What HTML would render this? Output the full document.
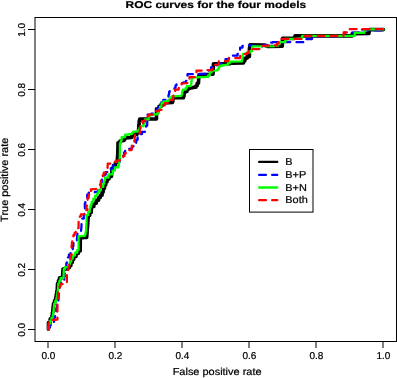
<!DOCTYPE html>
<html><head><meta charset="utf-8"><title>ROC curves for the four models</title>
<style>
html,body{margin:0;padding:0;background:#fff;}
body{width:397px;height:378px;overflow:hidden;}
svg{display:block;}
text{font-family:"Liberation Sans",sans-serif;fill:#000;text-rendering:geometricPrecision;stroke:#000;stroke-width:0.22px;}
.t{font-size:10px;}
.l{font-size:10.1px;}
.g{font-size:10px;}
.c{fill:none;stroke-width:2.25;stroke-linecap:round;stroke-linejoin:round;}
</style></head><body>
<svg width="397" height="378" viewBox="0 0 397 378">
<rect x="0" y="0" width="397" height="378" fill="#fff"/>
<text transform="translate(215.8,8.1) scale(1.21,1)" text-anchor="middle" font-weight="bold" font-size="9.9px" text-rendering="geometricPrecision">ROC curves for the four models</text>
<text transform="translate(217.1,375.2) scale(1.085,1)" text-anchor="middle" class="l">False positive rate</text>
<text transform="translate(7.7,179.8) rotate(-90) scale(1.085,1.04)" text-anchor="middle" class="l">True positive rate</text>

<polyline class="c" stroke="#000" style="stroke-width:3.6" points="48.4,329.3 48.5,324.5 48.5,322.6 50.2,322.6 50.2,318.9 52.0,318.9 52.0,317.0 52.0,315.5 52.4,315.5 52.4,312.5 52.8,312.5 52.8,309.5 53.1,309.5 53.1,306.5 53.5,306.5 53.5,305.0 53.5,303.5 54.6,303.5 54.6,300.5 55.7,300.5 55.7,299.0 55.7,297.5 56.2,297.5 56.2,294.5 56.7,294.5 56.7,291.5 57.2,291.5 57.2,290.0 57.5,285.0 57.5,283.5 58.5,283.5 58.5,280.5 59.5,280.5 59.5,279.0 59.5,277.8 62.5,277.8 62.5,276.5 63.0,270.0 63.0,269.1 66.0,269.1 66.0,268.3 66.0,267.6 69.5,267.6 69.5,267.0 69.5,265.5 70.9,265.5 70.9,262.5 72.3,262.5 72.3,259.5 73.7,259.5 73.7,258.0 73.7,256.5 76.0,256.5 76.0,253.5 78.3,253.5 78.3,252.0 78.3,251.0 80.2,251.0 80.2,250.0 80.3,238.0 80.3,237.8 83.5,237.8 83.5,237.4 86.7,237.4 86.7,237.2 86.7,235.8 86.9,235.8 86.9,232.9 87.1,232.9 87.1,230.0 87.3,230.0 87.3,227.1 87.6,227.1 87.6,224.2 87.8,224.2 87.8,221.3 88.0,221.3 88.0,218.4 88.2,218.4 88.2,217.0 88.2,215.5 89.7,215.5 89.7,212.5 91.2,212.5 91.2,211.0 91.6,208.0 91.6,206.4 93.9,206.4 93.9,203.3 96.3,203.3 96.3,200.2 98.6,200.2 98.6,198.7 98.6,197.5 100.3,197.5 100.3,195.2 102.1,195.2 102.1,194.0 102.1,192.1 103.2,192.1 103.2,188.4 104.4,188.4 104.4,186.5 104.4,185.0 105.7,185.0 105.7,182.0 107.0,182.0 107.0,180.5 107.0,179.0 109.0,179.0 109.0,177.5 109.0,176.5 111.5,176.5 111.5,175.5 112.0,170.0 112.0,168.3 113.7,168.3 113.7,166.7 113.7,165.3 115.5,165.3 115.5,162.4 117.2,162.4 117.2,161.0 117.8,153.6 118.0,144.5 118.0,142.8 120.0,142.8 120.0,141.0 124.0,140.5 124.0,139.2 125.0,139.2 125.0,138.0 131.5,137.5 131.5,136.2 133.0,136.2 133.0,135.0 133.0,134.5 137.0,134.5 137.0,134.0 137.0,132.5 138.5,132.5 138.5,131.0 138.8,126.0 138.8,124.2 139.2,124.2 139.2,120.8 139.7,120.8 139.7,119.0 156.5,119.0 156.5,110.0 156.5,108.8 159.0,108.8 159.0,107.5 159.0,106.4 161.2,106.4 161.2,104.1 163.5,104.1 163.5,103.0 172.5,102.5 172.5,101.3 173.0,101.3 173.0,98.9 173.5,98.9 173.5,97.7 183.5,97.8 183.5,96.3 184.0,96.3 184.0,93.4 184.5,93.4 184.5,92.0 184.5,91.5 187.0,91.5 187.0,91.0 187.0,89.8 188.0,89.8 188.0,88.5 188.0,88.2 190.7,88.2 190.7,87.8 193.3,87.8 193.3,87.2 196.0,87.2 196.0,87.0 196.0,85.8 197.2,85.8 197.2,83.2 198.5,83.2 198.5,82.0 199.0,74.6 213.0,74.2 213.5,63.7 230.0,63.7 231.0,63.2 243.5,63.0 243.5,61.1 244.8,61.1 244.8,59.2 244.8,58.3 247.1,58.3 247.1,56.6 249.4,56.6 249.4,55.7 249.4,48.7 250.0,44.8 264.0,45.0 268.0,46.5 282.3,46.3 282.5,38.4 294.8,38.4 295.0,35.8 352.0,35.9 352.3,33.6 369.0,33.4 369.3,29.6 383.5,29.6"/>
<polyline class="c" stroke="#0000ff" stroke-dasharray="6.8 6.2" points="48.4,329.3 48.4,327.6 50.0,327.6 50.0,326.0 50.0,325.0 53.5,325.0 53.5,324.0 53.5,322.6 54.0,322.6 54.0,319.9 54.5,319.9 54.5,317.1 55.1,317.1 55.1,314.4 55.6,314.4 55.6,313.0 55.6,311.4 56.3,311.4 56.3,308.1 57.1,308.1 57.1,304.9 57.8,304.9 57.8,301.6 58.5,301.6 58.5,300.0 59.0,290.0 59.0,288.5 59.5,288.5 59.5,285.5 60.0,285.5 60.0,284.0 60.0,282.7 64.0,282.7 64.0,281.4 64.0,279.8 64.3,279.8 64.3,276.7 64.7,276.7 64.7,273.6 65.0,273.6 65.0,272.0 65.0,270.2 65.7,270.2 65.7,266.8 66.3,266.8 66.3,265.0 66.3,263.4 66.8,263.4 66.8,260.3 67.4,260.3 67.4,258.7 67.4,257.3 68.9,257.3 68.9,254.6 70.5,254.6 70.5,251.9 72.0,251.9 72.0,250.6 72.0,249.3 72.8,249.3 72.8,248.0 72.8,246.2 73.4,246.2 73.4,244.5 73.4,243.2 75.2,243.2 75.2,240.6 76.9,240.6 76.9,239.3 77.4,234.0 77.4,233.2 80.9,233.2 80.9,232.3 81.5,226.0 81.5,220.0 81.5,218.6 83.8,218.6 83.8,217.2 83.8,215.3 84.4,215.3 84.4,211.6 85.0,211.6 85.0,209.7 84.8,205.0 84.8,203.6 85.3,203.6 85.3,200.7 85.8,200.7 85.8,199.3 85.8,197.7 87.2,197.7 87.2,194.5 88.7,194.5 88.7,192.9 88.7,192.7 91.8,192.7 91.8,192.3 94.9,192.3 94.9,191.9 98.0,191.9 98.0,191.7 98.0,190.3 99.0,190.3 99.0,187.4 100.0,187.4 100.0,186.0 100.0,184.7 100.9,184.7 100.9,182.2 101.8,182.2 101.8,179.7 102.7,179.7 102.7,178.4 102.7,177.1 104.2,177.1 104.2,174.6 105.8,174.6 105.8,172.1 107.3,172.1 107.3,170.8 107.3,170.2 110.8,170.2 110.8,169.7 110.8,168.6 112.8,168.6 112.8,167.4 112.8,165.7 116.2,165.7 116.2,162.3 119.6,162.3 119.6,159.0 123.0,159.0 123.0,157.3 123.0,155.7 124.0,155.7 124.0,152.3 125.1,152.3 125.1,150.7 125.1,150.1 129.2,150.1 129.2,149.5 129.2,148.8 132.0,148.8 132.0,148.0 132.0,146.3 134.1,146.3 134.1,143.1 136.2,143.1 136.2,141.4 136.2,139.8 137.6,139.8 137.6,136.6 139.1,136.6 139.1,135.0 139.1,134.0 142.0,134.0 142.0,131.9 144.9,131.9 144.9,130.9 144.9,129.2 146.1,129.2 146.1,125.7 147.2,125.7 147.2,124.0 147.6,114.9 147.6,114.5 151.3,114.5 151.3,113.5 155.1,113.5 155.1,113.1 155.1,111.6 157.2,111.6 157.2,108.5 159.2,108.5 159.2,105.5 161.3,105.5 161.3,102.4 163.3,102.4 163.3,100.9 163.3,99.8 165.9,99.8 165.9,97.4 168.5,97.4 168.5,96.3 168.5,94.8 169.1,94.8 169.1,91.9 169.7,91.9 169.7,90.5 173.7,89.9 173.7,89.6 174.5,89.6 174.5,89.3 174.5,88.0 175.5,88.0 175.5,85.3 176.5,85.3 176.5,84.0 181.0,83.5 181.0,83.1 183.5,83.1 183.5,82.4 186.0,82.4 186.0,82.0 186.0,80.8 186.8,80.8 186.8,78.2 187.5,78.2 187.5,77.0 187.5,74.2 197.0,74.2 205.0,73.8 207.0,73.8 207.0,72.5 209.0,72.5 209.0,70.0 211.0,70.0 211.0,68.7 211.0,67.3 214.0,67.3 214.0,66.0 214.0,65.5 216.7,65.5 216.7,64.5 219.3,64.5 219.3,63.5 222.0,63.5 222.0,63.0 222.0,61.7 225.5,61.7 225.5,59.0 229.0,59.0 229.0,57.7 229.0,56.7 232.0,56.7 232.0,55.7 237.5,55.7 237.5,53.9 238.5,53.9 238.5,52.0 238.5,50.6 240.1,50.6 240.1,49.3 240.1,47.5 242.5,47.5 242.5,45.8 247.5,45.3 262.0,46.5 262.0,45.9 264.7,45.9 264.7,44.8 267.4,44.8 267.4,43.7 270.0,43.7 270.0,42.6 272.7,42.6 272.7,42.0 304.0,42.2 304.0,40.6 306.4,40.6 306.4,39.0 312.0,39.0 312.0,37.5 314.0,37.5 314.0,36.1 344.3,36.1 344.3,32.7 358.5,32.7 358.7,29.5 365.0,29.6 366.0,30.3 383.5,30.3"/>
<polyline class="c" stroke="#00ff00" points="48.4,329.3 48.9,325.0 48.9,323.6 50.2,323.6 50.2,320.9 51.4,320.9 51.4,318.1 52.7,318.1 52.7,316.7 52.7,315.2 53.1,315.2 53.1,312.3 53.5,312.3 53.5,309.4 53.8,309.4 53.8,306.5 54.2,306.5 54.2,305.0 54.2,303.6 55.3,303.6 55.3,300.7 56.4,300.7 56.4,299.3 56.4,297.8 56.9,297.8 56.9,294.6 57.4,294.6 57.4,291.5 57.9,291.5 57.9,290.0 58.3,285.0 58.3,283.5 59.4,283.5 59.4,280.5 60.5,280.5 60.5,279.0 60.5,278.2 63.5,278.2 63.5,277.5 63.8,270.0 63.8,269.2 65.0,269.2 65.0,268.5 65.0,267.2 68.5,267.2 68.5,266.0 68.5,264.5 69.9,264.5 69.9,261.5 71.3,261.5 71.3,258.5 72.7,258.5 72.7,257.0 72.7,255.5 75.0,255.5 75.0,252.5 77.3,252.5 77.3,251.0 77.3,249.8 78.6,249.8 78.6,248.6 78.6,236.4 85.0,235.8 85.0,234.4 85.6,234.4 85.6,231.5 86.2,231.5 86.2,230.0 86.7,216.6 86.7,215.2 88.2,215.2 88.2,212.2 89.7,212.2 89.7,210.8 89.9,208.6 89.9,207.3 90.8,207.3 90.8,204.7 91.6,204.7 91.6,203.4 91.6,201.8 93.3,201.8 93.3,198.6 95.1,198.6 95.1,197.0 95.1,195.8 96.8,195.8 96.8,193.5 98.6,193.5 98.6,192.3 98.6,190.3 100.9,190.3 100.9,188.3 100.9,186.8 103.3,186.8 103.3,185.3 103.3,183.7 104.2,183.7 104.2,180.6 105.0,180.6 105.0,179.0 105.0,177.5 108.5,177.5 108.5,176.0 108.5,174.3 112.6,174.3 112.6,172.6 112.6,170.6 114.9,170.6 114.9,168.5 114.9,167.4 118.5,167.4 118.5,166.3 118.5,165.0 118.9,165.0 118.9,162.5 119.3,162.5 119.3,160.0 119.7,160.0 119.7,158.7 119.9,153.6 119.9,144.9 119.9,143.4 120.8,143.4 120.8,140.5 121.6,140.5 121.6,139.1 121.6,137.1 125.1,137.1 125.1,135.0 125.1,134.7 128.6,134.7 128.6,134.1 132.1,134.1 132.1,133.8 132.1,132.7 133.3,132.7 133.3,131.5 137.9,131.5 137.9,130.3 139.4,130.3 139.4,128.1 140.8,128.1 140.8,126.9 140.8,126.0 143.7,126.0 143.7,125.1 143.7,123.3 144.9,123.3 144.9,121.6 144.9,119.4 148.7,119.4 148.7,117.2 148.7,116.1 149.9,116.1 149.9,114.9 149.9,114.8 153.7,114.8 153.7,114.4 157.4,114.4 157.4,114.3 157.4,112.8 158.8,112.8 158.8,109.7 160.1,109.7 160.1,106.6 161.5,106.6 161.5,105.0 161.5,103.2 163.3,103.2 163.3,101.5 168.5,100.9 168.5,99.8 169.9,99.8 169.9,97.4 171.4,97.4 171.4,96.3 181.6,95.8 181.6,94.3 182.2,94.3 182.2,91.4 182.8,91.4 182.8,89.9 182.8,89.6 185.7,89.6 185.7,89.3 185.7,87.8 186.9,87.8 186.9,86.4 186.9,86.1 190.9,86.1 190.9,85.8 190.9,84.4 191.3,84.4 191.3,81.6 191.7,81.6 191.7,78.9 192.1,78.9 192.1,77.5 192.1,77.4 195.3,77.4 195.3,77.3 198.5,77.3 198.5,77.2 201.7,77.2 201.7,77.0 204.9,77.0 204.9,76.9 208.1,76.9 208.1,76.8 208.1,75.3 209.8,75.3 209.8,72.4 211.6,72.4 211.6,71.0 217.4,70.5 217.4,69.3 218.6,69.3 218.6,67.0 219.8,67.0 219.8,65.8 219.8,65.6 222.5,65.6 222.5,65.2 225.2,65.2 225.2,64.9 227.9,64.9 227.9,64.7 227.9,63.2 229.7,63.2 229.7,61.7 242.0,61.4 242.0,59.7 242.4,59.7 242.4,56.2 242.8,56.2 242.8,54.5 242.8,53.9 246.4,53.9 246.4,52.6 250.0,52.6 250.0,52.0 250.0,51.2 252.0,51.2 252.0,50.5 252.5,46.4 274.8,46.1 274.8,45.7 278.0,45.7 278.0,45.2 278.0,43.6 279.0,43.6 279.0,42.0 285.4,42.0 285.4,40.5 286.0,40.5 286.0,38.9 301.5,38.9 301.5,37.4 302.2,37.4 302.2,35.9 354.7,35.9 354.7,32.9 364.3,32.9 364.3,29.4 383.5,29.4"/>
<polyline class="c" stroke="#ff0000" stroke-dasharray="6.8 6.2" points="48.4,329.3 48.8,322.5 48.8,321.2 52.0,321.2 52.0,320.0 57.4,319.6 57.4,304.0 57.4,302.2 57.7,302.2 57.7,298.8 58.0,298.8 58.0,297.0 58.0,293.0 58.0,291.7 58.8,291.7 58.8,289.0 59.7,289.0 59.7,286.3 60.5,286.3 60.5,285.0 60.5,284.0 64.0,284.0 64.0,283.0 64.0,282.5 66.9,282.5 66.9,282.0 66.9,274.4 66.9,272.7 68.0,272.7 68.0,271.0 68.0,269.5 68.6,269.5 68.6,266.6 69.2,266.6 69.2,263.7 69.7,263.7 69.7,260.8 70.3,260.8 70.3,257.9 70.9,257.9 70.9,255.0 71.5,255.0 71.5,253.5 71.6,246.9 71.6,245.4 71.9,245.4 71.9,242.5 72.2,242.5 72.2,241.0 72.2,239.8 72.8,239.8 72.8,237.6 73.4,237.6 73.4,236.4 73.4,235.2 74.6,235.2 74.6,232.9 75.7,232.9 75.7,231.7 75.7,230.5 77.2,230.5 77.2,228.2 78.6,228.2 78.6,227.0 78.6,220.7 78.6,219.2 79.8,219.2 79.8,216.4 80.9,216.4 80.9,214.9 80.9,214.3 84.4,214.3 84.4,213.7 84.4,212.5 85.8,212.5 85.8,210.2 87.3,210.2 87.3,209.0 86.4,208.0 86.4,206.7 86.8,206.7 86.8,204.0 87.2,204.0 87.2,201.3 87.6,201.3 87.6,200.0 87.6,197.9 88.7,197.9 88.7,195.8 88.7,194.7 91.6,194.7 91.6,193.5 90.8,189.4 98.6,188.8 98.6,187.7 100.9,187.7 100.9,186.5 100.9,182.4 100.9,180.9 101.9,180.9 101.9,178.0 102.8,178.0 102.8,175.1 103.8,175.1 103.8,173.7 103.8,172.6 107.3,172.6 107.3,171.4 107.8,163.8 107.8,163.6 110.3,163.6 110.3,163.2 112.8,163.2 112.8,163.0 112.8,161.9 116.4,161.9 116.4,160.9 116.4,160.7 119.7,160.7 119.7,160.2 123.0,160.2 123.0,160.0 123.2,157.3 123.2,156.1 124.5,156.1 124.5,153.6 125.7,153.6 125.7,152.4 125.7,151.7 128.6,151.7 128.6,150.2 131.5,150.2 131.5,149.5 132.1,144.3 132.1,142.6 134.4,142.6 134.4,140.8 135.0,135.6 135.0,134.9 137.3,134.9 137.3,133.4 139.7,133.4 139.7,132.7 140.2,128.0 140.2,126.5 141.6,126.5 141.6,123.7 143.1,123.7 143.1,122.2 142.3,121.9 142.3,121.0 145.2,121.0 145.2,120.1 145.2,118.8 146.9,118.8 146.9,116.2 148.7,116.2 148.7,114.9 148.7,114.6 152.8,114.6 152.8,114.3 153.2,112.0 153.2,111.7 156.2,111.7 156.2,111.1 159.2,111.1 159.2,110.8 159.2,109.9 162.1,109.9 162.1,109.1 162.1,107.8 163.6,107.8 163.6,105.1 165.0,105.1 165.0,103.8 165.0,103.2 168.5,103.2 168.5,102.7 168.5,101.8 170.8,101.8 170.8,100.1 173.1,100.1 173.1,99.2 173.5,94.0 173.5,92.0 175.2,92.0 175.2,89.9 175.2,89.6 178.7,89.6 178.7,89.3 178.7,87.8 179.3,87.8 179.3,86.4 179.3,85.0 181.6,85.0 181.6,83.5 189.2,83.0 189.5,77.2 196.2,77.1 196.5,70.8 196.5,70.7 199.8,70.7 199.8,70.6 203.0,70.6 203.0,70.4 206.3,70.4 206.3,70.2 209.5,70.2 209.5,70.1 212.8,70.1 212.8,70.0 212.8,68.7 213.2,68.7 213.2,66.1 213.5,66.1 213.5,64.8 218.5,64.7 218.8,61.3 228.3,61.2 228.8,58.0 240.0,58.0 240.3,54.6 240.3,54.5 243.7,54.5 243.7,54.2 247.0,54.2 247.0,54.0 247.0,52.8 248.8,52.8 248.8,50.4 250.5,50.4 250.5,49.2 260.0,49.0 260.0,47.5 262.8,47.5 262.8,45.9 262.8,45.8 265.6,45.8 265.6,45.7 268.5,45.7 268.5,45.6 271.3,45.6 271.3,45.5 274.2,45.5 274.2,45.4 277.0,45.4 277.0,45.3 277.0,43.6 278.5,43.6 278.5,42.0 280.0,42.0 280.0,40.5 281.0,40.5 281.0,38.9 301.5,38.9 301.5,37.4 302.2,37.4 302.2,35.9 343.6,35.9 343.6,32.4 349.4,32.4 349.4,29.1 383.5,29.2"/>
<g stroke="#000" stroke-width="1" fill="none">
<rect x="35.0" y="17.5" width="361.5" height="324.0"/>
<line x1="48.0" y1="341.5" x2="48.0" y2="348.0"/>
<line x1="35.0" y1="329.5" x2="28.0" y2="329.5"/>
<line x1="115.0" y1="341.5" x2="115.0" y2="348.0"/>
<line x1="35.0" y1="269.5" x2="28.0" y2="269.5"/>
<line x1="182.0" y1="341.5" x2="182.0" y2="348.0"/>
<line x1="35.0" y1="209.5" x2="28.0" y2="209.5"/>
<line x1="249.0" y1="341.5" x2="249.0" y2="348.0"/>
<line x1="35.0" y1="149.5" x2="28.0" y2="149.5"/>
<line x1="316.0" y1="341.5" x2="316.0" y2="348.0"/>
<line x1="35.0" y1="89.5" x2="28.0" y2="89.5"/>
<line x1="383.0" y1="341.5" x2="383.0" y2="348.0"/>
<line x1="35.0" y1="29.5" x2="28.0" y2="29.5"/>
</g>
<text class="t" x="48.4" y="358.5" text-anchor="middle">0.0</text>
<text class="t" transform="translate(24.5,329.9) rotate(-90)" text-anchor="middle">0.0</text>
<text class="t" x="115.4" y="358.5" text-anchor="middle">0.2</text>
<text class="t" transform="translate(24.5,269.9) rotate(-90)" text-anchor="middle">0.2</text>
<text class="t" x="182.4" y="358.5" text-anchor="middle">0.4</text>
<text class="t" transform="translate(24.5,209.9) rotate(-90)" text-anchor="middle">0.4</text>
<text class="t" x="249.4" y="358.5" text-anchor="middle">0.6</text>
<text class="t" transform="translate(24.5,149.9) rotate(-90)" text-anchor="middle">0.6</text>
<text class="t" x="316.4" y="358.5" text-anchor="middle">0.8</text>
<text class="t" transform="translate(24.5,89.9) rotate(-90)" text-anchor="middle">0.8</text>
<text class="t" x="383.4" y="358.5" text-anchor="middle">1.0</text>
<text class="t" transform="translate(24.5,29.9) rotate(-90)" text-anchor="middle">1.0</text>
<rect x="249.5" y="149.5" width="63.5" height="62.6" fill="#fff" stroke="#000" stroke-width="1"/>
<line class="c" style="stroke-width:2.3" x1="259.15" y1="161.9" x2="277.25" y2="161.9" stroke="#000"/>
<text class="g" transform="translate(285.3,164.9) scale(1.09,1)">B</text>
<line class="c" style="stroke-width:2.3" x1="259.15" y1="174.9" x2="277.25" y2="174.9" stroke="#0000ff" stroke-dasharray="6.8 6.2"/>
<text class="g" transform="translate(285.3,177.9) scale(1.09,1)">B+P</text>
<line class="c" style="stroke-width:2.3" x1="259.15" y1="187.5" x2="277.25" y2="187.5" stroke="#00ff00"/>
<text class="g" transform="translate(285.3,190.5) scale(1.09,1)">B+N</text>
<line class="c" style="stroke-width:2.3" x1="259.15" y1="200.2" x2="277.25" y2="200.2" stroke="#ff0000" stroke-dasharray="6.8 6.2"/>
<text class="g" transform="translate(285.3,203.2) scale(1.09,1)">Both</text>
</svg></body></html>
